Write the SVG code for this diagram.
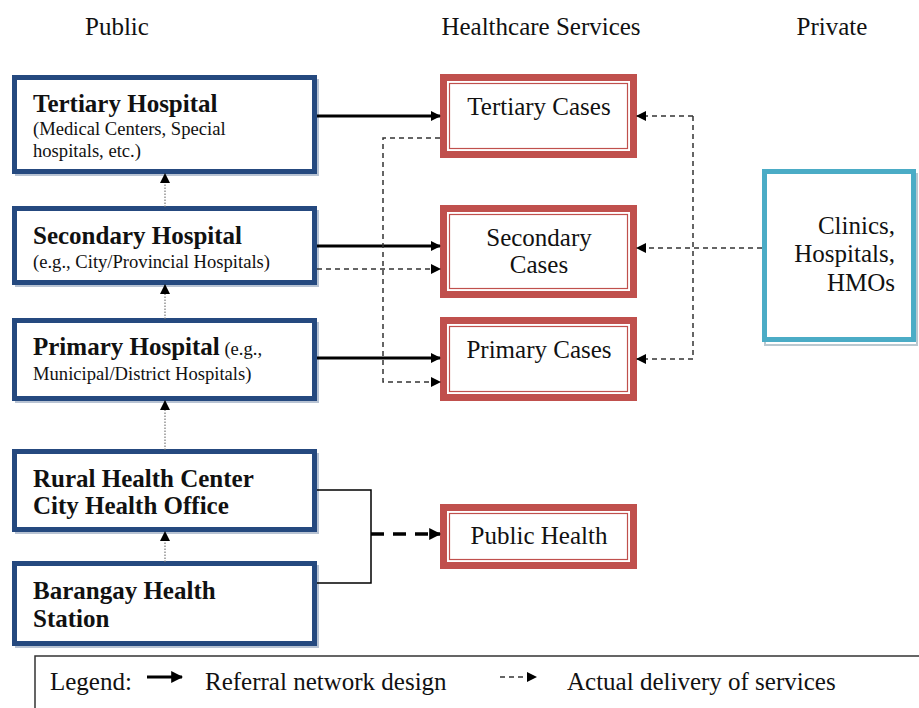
<svg xmlns="http://www.w3.org/2000/svg" width="919" height="708" viewBox="0 0 919 708">
<style>
text{font-family:"Liberation Serif","Times New Roman",serif;fill:#111}
.h{font-size:25px}
.b{font-size:25px;font-weight:bold}
.s{font-size:18.6px}
.c{font-size:25px;text-anchor:middle}
.blue{fill:#fff;stroke:#25497f;stroke-width:5}
.shb{fill:none;stroke:#b8c3d3;stroke-width:2}
.red{fill:#fff;stroke:#c0504d;stroke-width:7}
.redi{fill:none;stroke:#c0504d;stroke-width:1.2}
.solid{stroke:#000;stroke-width:3;fill:none}
.dash{stroke:#333;stroke-width:1.5;stroke-dasharray:5,4;fill:none}
.dot{stroke:#777;stroke-width:1.2;stroke-dasharray:1.5,1.5;fill:none}
</style>
<defs>
<marker id="ah" viewBox="0 0 10 10" refX="9" refY="5" markerWidth="10" markerHeight="10" markerUnits="userSpaceOnUse" orient="auto"><path d="M0,0L10,5L0,10z" fill="#000"/></marker>
<marker id="ahl" viewBox="0 0 10 10" refX="9" refY="5" markerWidth="12" markerHeight="12" markerUnits="userSpaceOnUse" orient="auto"><path d="M0,0L10,5L0,10z" fill="#000"/></marker>
</defs>
<rect width="919" height="708" fill="#fff"/>
<g id="headers">
<text class="h" x="85" y="35">Public</text>
<text class="h" x="541" y="35" text-anchor="middle">Healthcare Services</text>
<text class="h" x="832" y="35" text-anchor="middle">Private</text>
</g>
<g id="tertiary-hospital">
<rect class="shb" x="16" y="80" width="302" height="95"/>
<rect class="blue" x="14.5" y="77.5" width="300" height="94"/>
<text class="b" x="33" y="112">Tertiary Hospital</text>
<text class="s" x="33" y="135">(Medical Centers, Special</text>
<text class="s" x="33" y="157">hospitals, etc.)</text>
</g>
<g id="secondary-hospital">
<rect class="shb" x="16" y="211" width="302" height="75"/>
<rect class="blue" x="14.5" y="208.5" width="300" height="74"/>
<text class="b" x="33" y="244">Secondary Hospital</text>
<text class="s" x="33" y="268">(e.g., City/Provincial Hospitals)</text>
</g>
<g id="primary-hospital">
<rect class="shb" x="16" y="323" width="302" height="79"/>
<rect class="blue" x="14.5" y="320.5" width="300" height="78"/>
<text x="33" y="355"><tspan class="b">Primary Hospital</tspan><tspan class="s"> (e.g.,</tspan></text>
<text class="s" x="33" y="380">Municipal/District Hospitals)</text>
</g>
<g id="rural-health-center">
<rect class="shb" x="16" y="454" width="302" height="79"/>
<rect class="blue" x="14.5" y="451.5" width="300" height="78"/>
<text class="b" x="33" y="487">Rural Health Center</text>
<text class="b" x="33" y="514">City Health Office</text>
</g>
<g id="barangay-health-station">
<rect class="shb" x="16" y="566" width="302" height="81"/>
<rect class="blue" x="14.5" y="563.5" width="300" height="80"/>
<text class="b" x="33" y="599">Barangay Health</text>
<text class="b" x="33" y="627">Station</text>
</g>
<g id="tertiary-cases">
<rect class="red" x="443.5" y="77.5" width="190" height="77"/>
<rect class="redi" x="449.5" y="83.5" width="178" height="65"/>
<text class="c" x="539" y="115">Tertiary Cases</text>
</g>
<g id="secondary-cases">
<rect class="red" x="443.5" y="208.5" width="190" height="86"/>
<rect class="redi" x="449.5" y="214.5" width="178" height="74"/>
<text class="c" x="539" y="246">Secondary</text>
<text class="c" x="539" y="273">Cases</text>
</g>
<g id="primary-cases">
<rect class="red" x="443.5" y="320.5" width="190" height="77"/>
<rect class="redi" x="449.5" y="326.5" width="178" height="65"/>
<text class="c" x="539" y="358">Primary Cases</text>
</g>
<g id="public-health">
<rect class="red" x="443.5" y="507.5" width="190" height="58"/>
<rect class="redi" x="449.5" y="513.5" width="178" height="46"/>
<text class="c" x="539" y="544">Public Health</text>
</g>
<g id="private">
<rect fill="none" stroke="#b9c8d0" stroke-width="2" x="765" y="174" width="152" height="171"/>
<rect fill="#fff" stroke="#4bacc6" stroke-width="5" x="764.5" y="171.5" width="149" height="168"/>
<text class="h" x="895" y="234" text-anchor="end">Clinics,</text>
<text class="h" x="895" y="262" text-anchor="end">Hospitals,</text>
<text class="h" x="895" y="291" text-anchor="end">HMOs</text>
</g>
<g id="connectors">
<path class="solid" d="M317,116H440" marker-end="url(#ah)"/>
<path class="solid" d="M317,246H440" marker-end="url(#ah)"/>
<path class="solid" d="M317,358H440" marker-end="url(#ah)"/>
<path class="dash" d="M317,269H440" marker-end="url(#ah)"/>
<path class="dash" d="M440,138H383V382H440" marker-end="url(#ah)"/>
<path class="dash" d="M693,116H637" marker-end="url(#ah)"/>
<path class="dash" d="M693,116V359H637" marker-end="url(#ah)"/>
<path class="dash" d="M762,248H637" marker-end="url(#ah)"/>
<path class="dot" d="M165,207V174" marker-end="url(#ah)"/>
<path class="dot" d="M165,319V285" marker-end="url(#ah)"/>
<path class="dot" d="M165,450V401" marker-end="url(#ah)"/>
<path class="dot" d="M165,562V532" marker-end="url(#ah)"/>
<path stroke="#000" stroke-width="1.5" fill="none" d="M317,490H371V583H317"/>
<path stroke="#000" stroke-width="3.5" stroke-dasharray="13,9" fill="none" d="M371,534H440" marker-end="url(#ahl)"/>
</g>
<g id="legend">
<path stroke="#333" stroke-width="1.5" fill="none" d="M35,708V656H919"/>
<text class="h" x="50" y="690">Legend:</text>
<path stroke="#000" stroke-width="3" d="M147,677H182" marker-end="url(#ahl)"/>
<text class="h" x="205" y="690">Referral network design</text>
<path class="dash" stroke-width="1.5" d="M500,677H536" marker-end="url(#ah)"/>
<text class="h" x="567" y="690">Actual delivery of services</text>
</g>
</svg>
